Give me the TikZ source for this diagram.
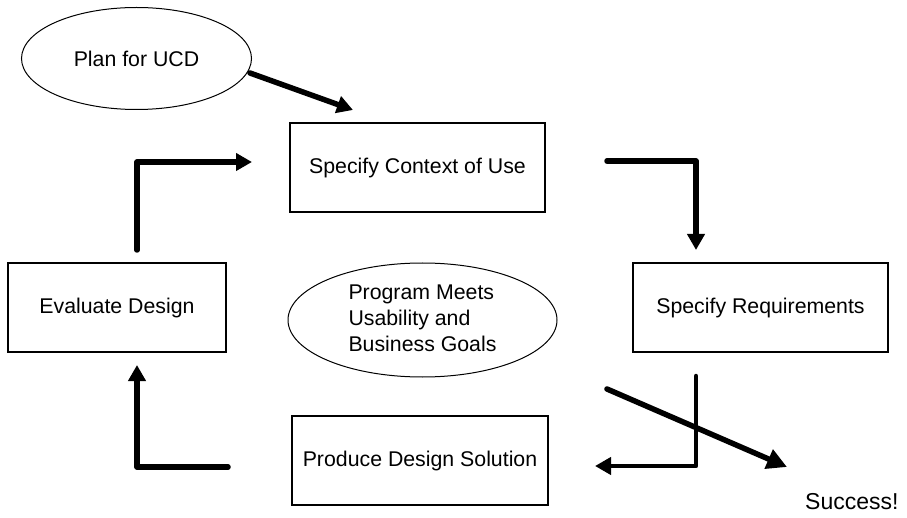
\documentclass[tikz,border=0pt]{standalone}
\usepackage{fontspec}
\setmainfont{Liberation Sans}
\usetikzlibrary{arrows.meta,shapes.geometric}
\begin{document}
\begin{tikzpicture}[x=1pt,y=-1pt,
  label font/.style={font=\fontsize{21.3}{26}\selectfont},
  stage/.style={draw, line width=1.3pt, inner sep=0pt, label font,
    minimum height=89pt},
  goal/.style={draw, ellipse, line width=1pt, inner sep=0pt, label font},
  flow/.style={line width=5.5pt, line cap=round, line join=round,
    -{Triangle[length=16pt,width=17pt]}},
  bigflow/.style={flow, -{Triangle[length=20pt,width=20pt]}}]
\useasboundingbox (0,0) rectangle (907,518);

% process stages
\node[stage, minimum width=255pt] (ctx)  at (417.5,167.5) {Specify Context of Use};
\node[stage, minimum width=255pt] (req)  at (760.5,307.5) {Specify Requirements};
\node[stage, minimum width=256pt] (prod) at (420,460.5)   {Produce Design Solution};
\node[stage, minimum width=218pt] (eval) at (117,307.5)   {Evaluate Design};

% start and goal
\node[goal, minimum width=230pt, minimum height=102pt] (plan) at (136.5,58.5) {Plan for UCD};
\node[goal, minimum width=269pt, minimum height=114pt] (goals) at (422.5,320)
  {\begin{tabular}{@{}l@{}}Program Meets\\Usability and\\Business Goals\end{tabular}};
\node[font=\fontsize{23}{27}\selectfont, anchor=base west, inner sep=0pt] (done) at (805,509) {Success!};

% connector end points
\coordinate (planout) at (250,73);
\coordinate (ctxin)   at (353,110);
\coordinate (evalout) at (137,250);
\coordinate (ctxleft) at (252,162);
\coordinate (ctxout)  at (607,161);
\coordinate (reqin)   at (696,250);
\coordinate (reqout)  at (696,376);
\coordinate (prodin)  at (595,466);
\coordinate (exit)    at (607,389);
\coordinate (doneup)  at (787,467);
\coordinate (prodout) at (228,467);
\coordinate (evalin)  at (137,365);

% cycle connectors
\draw[flow] (planout) -- (ctxin);
\draw[flow] (evalout) |- (ctxleft);
\draw[flow] (ctxout) -| (reqin);
\draw[flow, line width=4.5pt] (reqout) |- (prodin);
\draw[flow] (prodout) -| (evalin);
\draw[bigflow] (exit) -- (doneup);
\end{tikzpicture}
\end{document}
